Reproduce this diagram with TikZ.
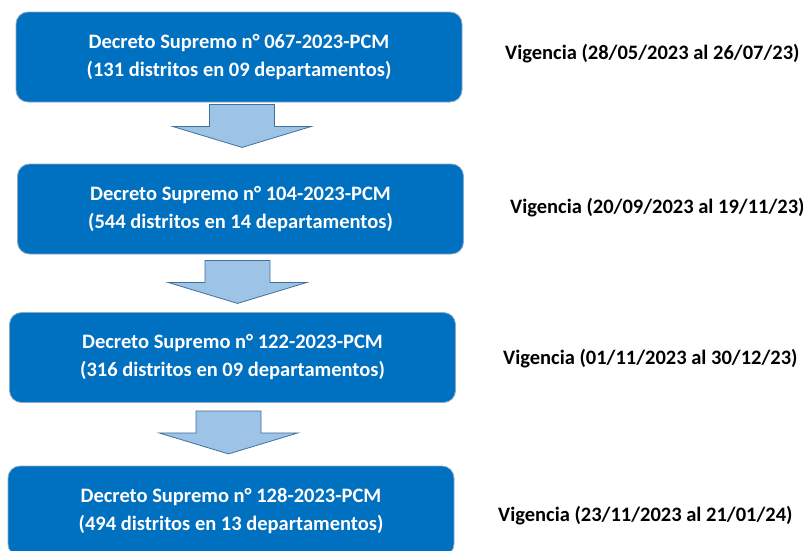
\documentclass[tikz,border=0pt]{standalone}
\usepackage{fontspec}
\setmainfont{Carlito}
\usetikzlibrary{calc}
\definecolor{azul}{HTML}{0070C0}
\definecolor{borde}{HTML}{41719C}
\definecolor{celeste}{HTML}{9DC3E6}

\begin{document}
\begin{tikzpicture}[x=1pt,y=-1pt,
	decreto/.style={rectangle,rounded corners=12pt,fill=azul,draw=borde!60,line width=0.8pt,
		minimum width=446pt,minimum height=90pt,text=white,align=center,
		font=\bfseries\fontsize{20.5}{28}\selectfont},
	vigencia/.style={anchor=west,inner sep=0pt,font=\bfseries\fontsize{20.5}{24}\selectfont},
	flecha/.style={fill=celeste,draw=borde,line width=0.8pt}]
	\clip (0,0) rectangle (803,550);
	\fill[white] (0,0) rectangle (803,550);
	%decretos
	\node[decreto] (d1) at (239,57) {Decreto Supremo n° 067-2023-PCM\\(131 distritos en 09 departamentos)};
	\node[decreto] (d2) at (240.5,209) {Decreto Supremo n° 104-2023-PCM\\(544 distritos en 14 departamentos)};
	\node[decreto] (d3) at (232.5,357.5) {Decreto Supremo n° 122-2023-PCM\\(316 distritos en 09 departamentos)};
	\node[decreto] (d4) at (231,511) {Decreto Supremo n° 128-2023-PCM\\(494 distritos en 13 departamentos)};
	
	%vigencias
	\node[vigencia] (v1) at (505,54) {Vigencia (28/05/2023 al 26/07/23)};
	\node[vigencia] (v2) at (510,208) {Vigencia (20/09/2023 al 19/11/23)};
	\node[vigencia] (v3) at (503,359) {Vigencia (01/11/2023 al 30/12/23)};
	\node[vigencia] (v4) at (498,516) {Vigencia (23/11/2023 al 21/01/24)};
	
	%flechas
	\foreach \a/\dx/\dy in {d1/3/2, d2/-3/6, d3/-4/8}{
		\draw[flecha] ($(\a.south)+(\dx,\dy)$) ++(-32.5,0) -- ++(65,0) -- ++(0,22) -- ++(37,0)
			-- ++(-69.5,21) -- ++(-69.5,-21) -- ++(37,0) -- cycle;
	}
\end{tikzpicture}
\end{document}
